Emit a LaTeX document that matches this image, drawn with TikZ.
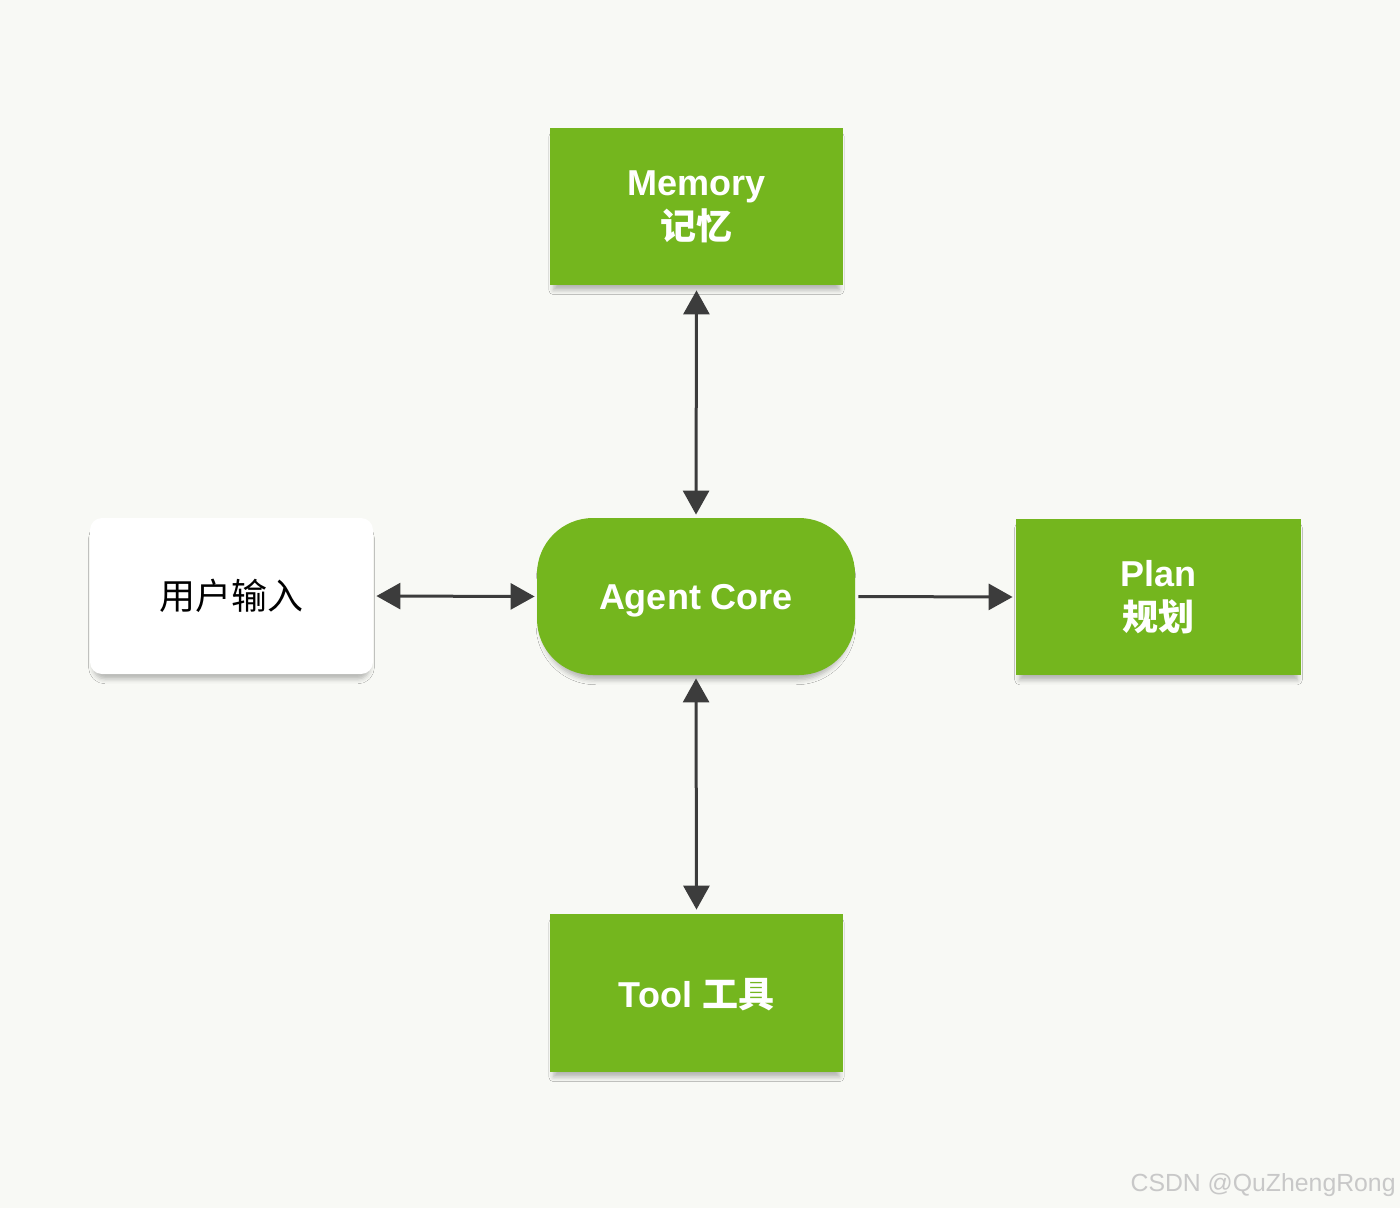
\documentclass[tikz,border=0pt]{standalone}
\usepackage{fontspec}
\setmainfont{Liberation Sans}
\newfontfamily\cjk{Noto Sans CJK SC}
\usetikzlibrary{arrows.meta,shadows.blur}
\definecolor{bggray}{RGB}{248,249,245}
\definecolor{agreen}{RGB}{116,182,30}
\definecolor{arrowgray}{RGB}{60,60,60}
\definecolor{wmgray}{RGB}{200,200,200}
\tikzset{
  softshadow/.style={blur shadow={shadow xshift=0pt, shadow yshift=-3.5pt, shadow scale=0.975, shadow blur radius=2.5pt, shadow opacity=28}},
  greenbox/.style={fill=agreen, draw=none, text=white, align=center,
    font=\fontsize{18}{23}\selectfont\bfseries, softshadow},
  whitebox/.style={fill=white, draw=none, rounded corners=6pt, text=black, align=center,
    font=\fontsize{18}{23}\selectfont, softshadow},
  conn/.style={draw=arrowgray, line width=1.5pt, {Triangle[length=12pt,width=13pt]}-{Triangle[length=12pt,width=13pt]}},
  conn1/.style={draw=arrowgray, line width=1.5pt, -{Triangle[length=12pt,width=13pt]}},
}
\begin{document}
\begin{tikzpicture}[x=0.5pt,y=-0.5pt]
\useasboundingbox (0,0) rectangle (1400,1208);
\fill[bggray] (0,0) rectangle (1400,1208);

\node[greenbox, minimum width=146.5pt, minimum height=78.5pt] (mem) at (696.5,206.5) {Memory\\[-1pt]{\cjk\bfseries 记忆}};
\node[greenbox, rounded corners=28pt, minimum width=159pt, minimum height=78.5pt, text depth=0pt] (core) at (696,596.5) {Agent Core};
\node[greenbox, minimum width=142.5pt, minimum height=78pt] (plan) at (1158.5,597) {Plan\\[-1pt]{\cjk\bfseries 规划}};
\node[greenbox, minimum width=146.5pt, minimum height=79pt, text depth=0pt] (tool) at (696.5,993) {Tool {\cjk\bfseries 工具}};
\node[whitebox, minimum width=141.5pt, minimum height=78pt] (user) at (231.5,596) {{\cjk 用户输入}};

\draw[conn, shorten <=2.5pt, shorten >=1.5pt] (mem.south) -- (core.north);
\draw[conn, shorten <=1.5pt, shorten >=2pt] (core.south) -- (tool.north);
\draw[conn, shorten <=1.5pt, shorten >=1pt] (user.east) -- (core.west);
\draw[conn1, shorten <=1.5pt, shorten >=1.5pt] (core.east) -- (plan.west);

\node[anchor=east, text=wmgray, font=\fontsize{12.4}{15}\selectfont, inner sep=0pt] (wm) at (1396,1185) {CSDN @QuZhengRong};
\end{tikzpicture}
\end{document}
